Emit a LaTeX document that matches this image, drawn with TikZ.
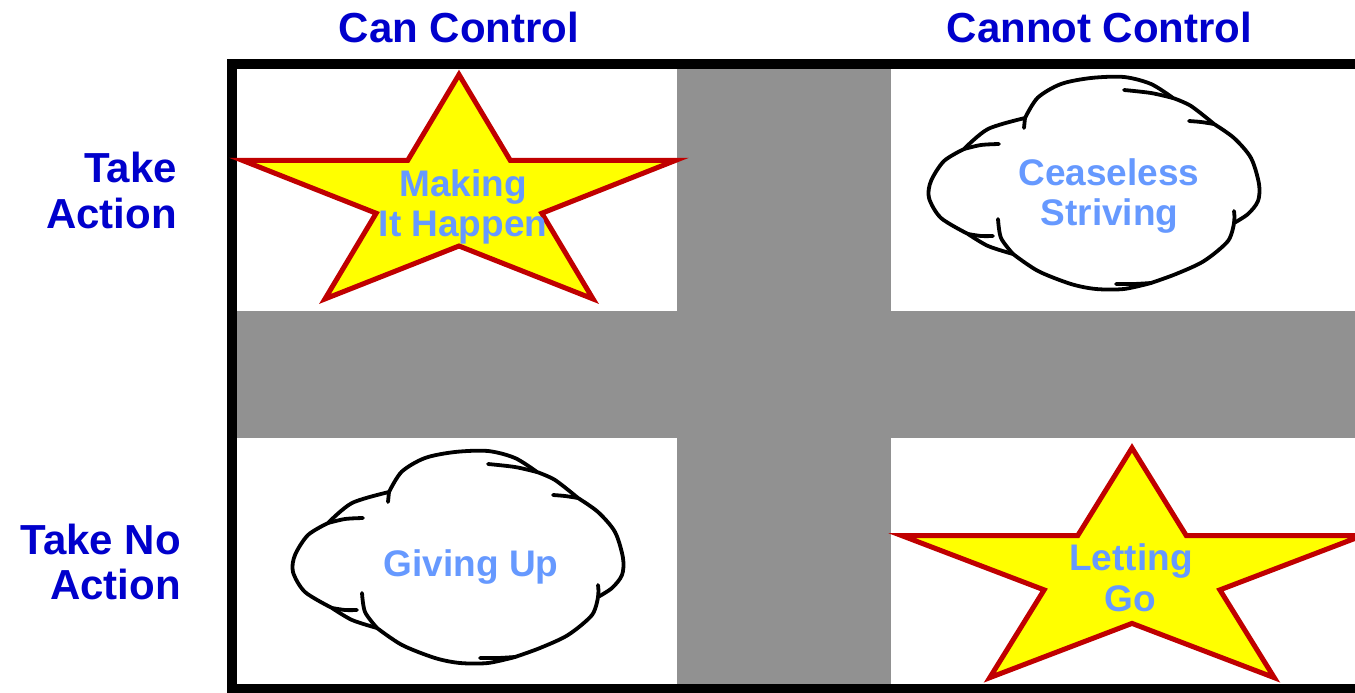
\documentclass[tikz,border=0pt]{standalone}
\usepackage{fontspec}
\setmainfont{Liberation Sans}
\definecolor{headblue}{RGB}{0,0,204}
\definecolor{labblue}{RGB}{102,153,255}
\definecolor{bandgray}{RGB}{145,145,145}
\definecolor{starred}{RGB}{192,0,0}
\definecolor{staryellow}{RGB}{255,255,0}
\newcommand\mycloudoutline{%
  (328,523) -- plot[smooth] coordinates {(328,523) (352,503) (389,492)}
  -- plot[smooth] coordinates {(389,492) (401.7,471.7) (425,458) (455,452) (488,451) (515,458) (537,472)}
  -- plot[smooth] coordinates {(537,472) (555,480) (578,498)}
  -- plot[smooth] coordinates {(578,498) (598,512) (615,532) (623,558) (622,575) (612,588) (598,597)}
  -- plot[smooth] coordinates {(598,597) (592,615) (568,635) (540,648) (515,657)}
  -- plot[smooth] coordinates {(515,657) (488,663) (460,663) (435,658) (402,645) (377,628)}
  -- plot[smooth] coordinates {(377,628) (352,620) (332,608)}
  -- plot[smooth] coordinates {(332,608) (305,592) (293,572) (295,555) (308,535) (328,523)} -- cycle}
\newcommand\mycloudhooks{%
  \draw[cloudline] plot[smooth] coordinates {(328,523) (345,519) (363,518)};
  \draw[cloudline] plot[smooth] coordinates {(389,492) (388.5,497) (388,502)};
  \draw[cloudline] plot[smooth] coordinates {(537,472) (515,467) (488,464)};
  \draw[cloudline] plot[smooth] coordinates {(578,498) (565,496) (553,495)};
  \draw[cloudline] plot[smooth] coordinates {(598,597) (598.5,591) (598,585)};
  \draw[cloudline] plot[smooth] coordinates {(515,657) (498,658) (480,658)};
  \draw[cloudline] plot[smooth] coordinates {(377,628) (365,612) (362,593)};
  \draw[cloudline] plot[smooth] coordinates {(332,608) (345,610) (357,610)};}
\begin{document}
\begin{tikzpicture}[x=1pt,y=-1pt,
  head/.style={font=\fontsize{42}{46}\selectfont\bfseries, text=headblue, inner sep=0pt},
  lab/.style={font=\fontsize{37}{40}\selectfont\bfseries, text=labblue, inner sep=0pt},
  band/.style={fill=bandgray, draw=none},
  starshape/.style={draw=starred, fill=staryellow, line width=5pt, line join=miter, miter limit=10},
  cloudline/.style={draw=black, line width=3.8pt, line cap=round, line join=round},
  cloudbody/.style={fill=white, draw=black, line width=3.8pt, line join=round},
  frame/.style={draw=black, line width=10pt}]
\useasboundingbox (0,0) rectangle (1355,693);
\fill[white] (0,0) rectangle (1355,693);
% bands
\path[band] (677,69) rectangle (891,684);
\path[band] (237,311) rectangle (1365,438);
% frame
\draw[frame] (232,64) rectangle (1375,688.5);
% stars
\begin{scope}[shift={(459,198.6)}]
\draw[starshape] (-90:228 and 124) -- (-54:87.1 and 47.4) -- (-18:228 and 124) -- (18:87.1 and 47.4)
  -- (54:228 and 124) -- (90:87.1 and 47.4) -- (126:228 and 124) -- (162:87.1 and 47.4)
  -- (198:228 and 124) -- (234:87.1 and 47.4) -- cycle;
\end{scope}
\begin{scope}[shift={(1132,574.9)}]
\draw[starshape] (-90:242 and 127) -- (-54:92.4 and 48.5) -- (-18:242 and 127) -- (18:92.4 and 48.5)
  -- (54:242 and 127) -- (90:92.4 and 48.5) -- (126:242 and 127) -- (162:92.4 and 48.5)
  -- (198:242 and 127) -- (234:92.4 and 48.5) -- cycle;
\end{scope}
% clouds
\path[cloudbody] \mycloudoutline;
\mycloudhooks
\begin{scope}[shift={(636,-374)}]
\path[cloudbody] \mycloudoutline;
\mycloudhooks
\end{scope}
% headings
\node[head, anchor=base] (hcan) at (459,43) {Can Control};
\node[head, anchor=base] (hcannot) at (1099.5,43) {Cannot Control};
\node[head, anchor=base east] (ta1) at (177,182) {Take};
\node[head, anchor=base east] (ta2) at (177,228) {Action};
\node[head, anchor=base east] (tn1) at (181,554) {Take No};
\node[head, anchor=base east] (tn2) at (181,599) {Action};
% labels
\node[lab, anchor=base] (mk1) at (463,196.5) {Making};
\node[lab, anchor=base] (mk2) at (463,236.5) {It Happen};
\node[lab, anchor=base] (cs1) at (1109,185) {Ceaseless};
\node[lab, anchor=base] (cs2) at (1109.5,225) {Striving};
\node[lab, anchor=base] (gu) at (471,576.5) {Giving Up};
\node[lab, anchor=base] (lg1) at (1131,570) {Letting};
\node[lab, anchor=base] (lg2) at (1130.5,611) {Go};
\end{tikzpicture}
\end{document}
